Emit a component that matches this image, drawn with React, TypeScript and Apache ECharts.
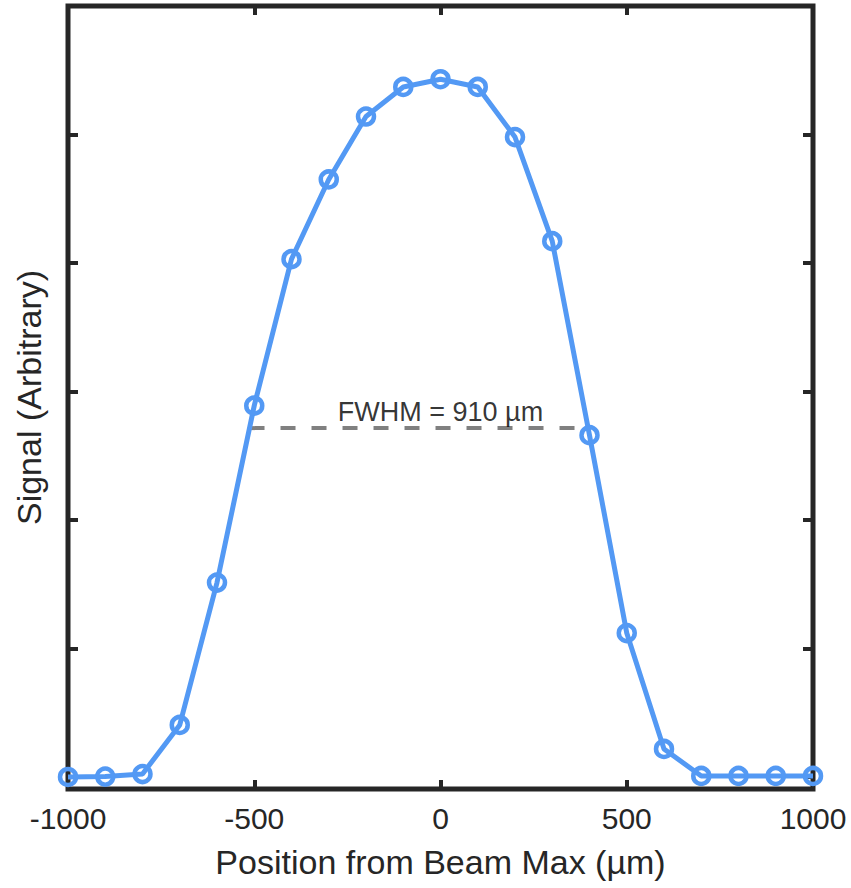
import React, { useEffect, useRef } from "react";
import * as echarts from "echarts";

const positions = [-1000, -900, -800, -700, -600, -500, -400, -300, -200, -100, 0, 100, 200, 300, 400, 500, 600, 700, 800, 900, 1000];
const signal = [0, 0.003, 0.023, 0.405, 1.513, 2.89, 4.03, 4.65, 5.14, 5.37, 5.43, 5.37, 4.98, 4.17, 2.66, 1.12, 0.218, 0.008, 0.008, 0.008, 0.008];
const fwhmX = [-512.7, 396.4];
const fwhmY = 2.715;
const fwhmLabel = "FWHM = 910 µm";
const fwhmLabelPos = [0, 2.84];
const yTicks = [0, 1, 2, 3, 4, 5];
const xTitle = "Position from Beam Max (µm)";
const yTitle = "Signal (Arbitrary)";

const FONT = "'Liberation Sans', Arial, Helvetica, sans-serif";
const AX = "#262626";
const BLUE = "#5399f4";

export default function App() {
  const ref = useRef<HTMLDivElement>(null);
  useEffect(() => {
    if (!ref.current) return;
    const chart = echarts.init(ref.current, null, { renderer: "svg" });
    const tickX = { show: true, inside: true, length: 9, lineStyle: { color: AX, width: 4 } };
    const tickY = { show: true, inside: true, length: 10, customValues: yTicks, lineStyle: { color: AX, width: 4 } };
    const noLine = { show: false, onZero: false };
    chart.setOption({
      animation: false,
      grid: { left: 68, right: 38, top: 6, bottom: 99, show: true, borderColor: AX, borderWidth: 5, backgroundColor: "transparent" },
      xAxis: [
        {
          type: "value", min: -1000, max: 1000, interval: 500, position: "bottom",
          axisLine: noLine, axisTick: tickX, splitLine: { show: false },
          axisLabel: { fontSize: 30, color: AX, fontFamily: FONT, margin: 14, formatter: (v: number) => String(v) },
          name: xTitle, nameLocation: "middle", nameGap: 56,
          nameTextStyle: { fontSize: 34, color: AX, fontFamily: FONT },
        },
        {
          type: "value", min: -1000, max: 1000, interval: 500, position: "top",
          axisLine: noLine, axisTick: tickX, splitLine: { show: false }, axisLabel: { show: false },
        },
      ],
      yAxis: [
        {
          type: "value", min: -0.0935, max: 6, position: "left",
          axisLine: noLine, axisTick: tickY, splitLine: { show: false }, axisLabel: { show: false },
          name: yTitle, nameLocation: "middle", nameRotate: 90, nameGap: 22,
          nameTextStyle: { fontSize: 34, color: AX, fontFamily: FONT },
        },
        {
          type: "value", min: -0.0935, max: 6, position: "right",
          axisLine: noLine, axisTick: tickY, splitLine: { show: false }, axisLabel: { show: false },
        },
      ],
      series: [
        {
          type: "line",
          data: [[fwhmX[0], fwhmY], [fwhmX[1], fwhmY]],
          symbol: "none",
          lineStyle: { color: "#808080", width: 4, type: [15, 16] },
          z: 2,
        },
        {
          type: "line",
          data: positions.map((p, i) => [p, signal[i]]),
          symbol: "circle",
          symbolSize: 16,
          itemStyle: { color: "rgba(0,0,0,0)", borderColor: BLUE, borderWidth: 4.5 },
          lineStyle: { color: BLUE, width: 5 },
          z: 3,
        },
        {
          type: "scatter",
          data: [fwhmLabelPos],
          symbolSize: 0,
          itemStyle: { color: "rgba(0,0,0,0)" },
          label: { show: true, position: "inside", formatter: fwhmLabel, fontSize: 27, color: "#000", fontFamily: FONT },
          z: 4,
        },
      ],
    });
    return () => chart.dispose();
  }, []);
  return <div ref={ref} style={{ width: 851, height: 888, position: "absolute", left: 0, top: 0, background: "#fff" }} />;
}
